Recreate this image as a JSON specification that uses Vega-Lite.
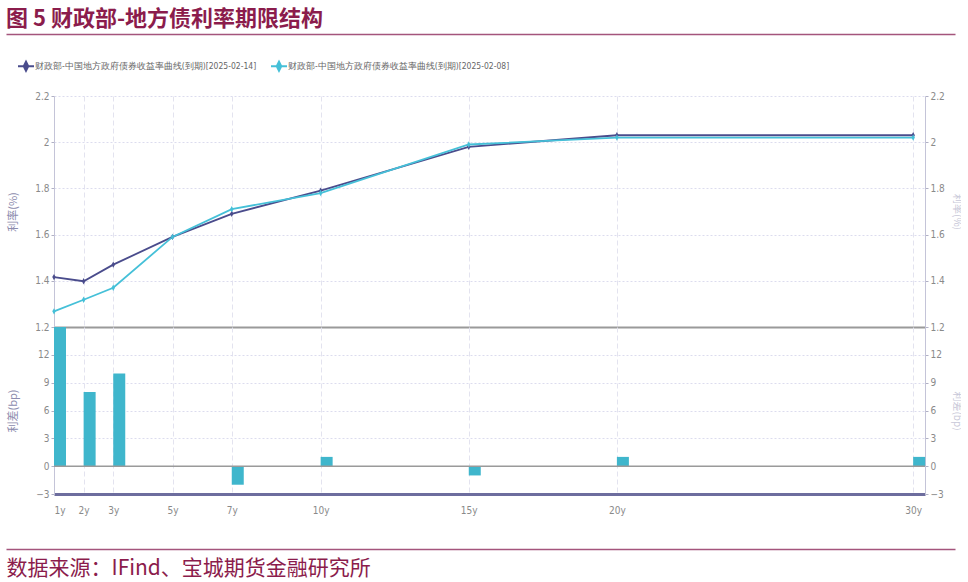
{
  "$schema": "https://vega.github.io/schema/vega-lite/v6.json",
  "padding": {"left": 6, "top": 8, "right": 0, "bottom": 2},
  "background": "white",
  "config": {
    "view": {"stroke": null},
    "font": "Liberation Sans Narrow, DejaVu Sans Condensed, sans-serif",
    "axis": {
      "labelFont": "Liberation Sans Narrow, DejaVu Sans Condensed, sans-serif",
      "labelFontSize": 10,
      "labelColor": "#8a8a8a",
      "titleFont": "Noto Sans CJK SC",
      "titleFontSize": 11,
      "titleFontWeight": "normal",
      "titleColor": "#8c8cae",
      "tickColor": "#b0b0c4",
      "tickSize": 3
    }
  },
  "datasets": {
    "rates": [
      {"tenor": 1, "series": "财政部-中国地方政府债券收益率曲线(到期)[2025-02-14]", "rate": 1.416},
      {"tenor": 2, "series": "财政部-中国地方政府债券收益率曲线(到期)[2025-02-14]", "rate": 1.398},
      {"tenor": 3, "series": "财政部-中国地方政府债券收益率曲线(到期)[2025-02-14]", "rate": 1.47},
      {"tenor": 5, "series": "财政部-中国地方政府债券收益率曲线(到期)[2025-02-14]", "rate": 1.59},
      {"tenor": 7, "series": "财政部-中国地方政府债券收益率曲线(到期)[2025-02-14]", "rate": 1.69},
      {"tenor": 10, "series": "财政部-中国地方政府债券收益率曲线(到期)[2025-02-14]", "rate": 1.79},
      {"tenor": 15, "series": "财政部-中国地方政府债券收益率曲线(到期)[2025-02-14]", "rate": 1.98},
      {"tenor": 20, "series": "财政部-中国地方政府债券收益率曲线(到期)[2025-02-14]", "rate": 2.03},
      {"tenor": 30, "series": "财政部-中国地方政府债券收益率曲线(到期)[2025-02-14]", "rate": 2.03},
      {"tenor": 1, "series": "财政部-中国地方政府债券收益率曲线(到期)[2025-02-08]", "rate": 1.268},
      {"tenor": 2, "series": "财政部-中国地方政府债券收益率曲线(到期)[2025-02-08]", "rate": 1.318},
      {"tenor": 3, "series": "财政部-中国地方政府债券收益率曲线(到期)[2025-02-08]", "rate": 1.37},
      {"tenor": 5, "series": "财政部-中国地方政府债券收益率曲线(到期)[2025-02-08]", "rate": 1.59},
      {"tenor": 7, "series": "财政部-中国地方政府债券收益率曲线(到期)[2025-02-08]", "rate": 1.71},
      {"tenor": 10, "series": "财政部-中国地方政府债券收益率曲线(到期)[2025-02-08]", "rate": 1.78},
      {"tenor": 15, "series": "财政部-中国地方政府债券收益率曲线(到期)[2025-02-08]", "rate": 1.99},
      {"tenor": 20, "series": "财政部-中国地方政府债券收益率曲线(到期)[2025-02-08]", "rate": 2.02},
      {"tenor": 30, "series": "财政部-中国地方政府债券收益率曲线(到期)[2025-02-08]", "rate": 2.02}
    ],
    "spread": [
      {"tenor": 1, "bp": 15},
      {"tenor": 2, "bp": 8},
      {"tenor": 3, "bp": 10},
      {"tenor": 5, "bp": 0},
      {"tenor": 7, "bp": -2},
      {"tenor": 10, "bp": 1},
      {"tenor": 15, "bp": -1},
      {"tenor": 20, "bp": 1},
      {"tenor": 30, "bp": 1}
    ],
    "one": [{"k": 0}]
  },
  "vconcat": [
    {
      "vconcat": [
        {
          "data": {"name": "one"},
          "width": 949,
          "height": 1,
          "title": {
            "text": "图 5 财政部-地方债利率期限结构",
            "anchor": "start",
            "font": "Noto Sans CJK SC",
            "fontSize": 22,
            "fontWeight": "bold",
            "color": "#8b1c4c",
            "offset": 2
          },
          "mark": {"type": "point", "size": 0, "opacity": 0},
          "encoding": {
            "x": {
              "field": "k", "type": "quantitative",
              "scale": {"domain": [0, 1]},
              "axis": {"orient": "bottom", "domainColor": "#a4557c", "domainWidth": 1.5, "ticks": false, "labels": false, "grid": false, "title": null}
            }
          }
        },
        {
          "hconcat": [
            {
              "data": {"name": "one"},
              "width": 1,
              "height": 1,
              "mark": {"type": "point", "size": 0, "opacity": 0},
              "encoding": {}
            },
            {
              "vconcat": [
                {
                  "width": 871,
                  "height": 231,
                  "data": {"name": "rates"},
                  "layer": [
                    {
                      "mark": {"type": "line", "strokeWidth": 1.8},
                      "encoding": {
                        "x": {
                          "field": "tenor", "type": "quantitative",
                          "scale": {"domain": [1, 30.4], "nice": false, "zero": false, "padding": 0},
                          "axis": {"values": [1, 2, 3, 5, 7, 10, 15, 20, 30], "labels": false, "ticks": false, "domainColor": "#9a9a9a", "domainWidth": 2, "grid": true, "gridColor": "#e3e3ef", "gridDash": [5, 3], "title": null}
                        },
                        "y": {
                          "field": "rate", "type": "quantitative",
                          "scale": {"domain": [1.2, 2.2], "nice": false, "zero": false},
                          "axis": {"orient": "left", "values": [1.2, 1.4, 1.6, 1.8, 2, 2.2], "format": ".1~f", "grid": true, "gridColor": "#dcdcee", "gridDash": [2, 2], "domainColor": "#c4c4d8", "labelPadding": 2, "title": "利率(%)", "titleX": -35.5}
                        },
                        "color": {
                          "field": "series", "type": "nominal",
                          "scale": {
                            "domain": ["财政部-中国地方政府债券收益率曲线(到期)[2025-02-14]", "财政部-中国地方政府债券收益率曲线(到期)[2025-02-08]"],
                            "range": ["#4a4c8c", "#45c0d8"]
                          },
                          "legend": {
                            "orient": "none", "legendX": -34, "legendY": -36, "direction": "horizontal", "title": null,
                            "symbolType": "M-1.6,0H1.6M0,-0.9L0.45,0L0,0.9L-0.45,0Z",
                            "symbolSize": 100, "symbolStrokeWidth": 2,
                            "labelFontSize": 8.5, "labelColor": "#666666", "labelLimit": 400,
                            "columnPadding": 10, "labelOffset": 3
                          }
                        }
                      }
                    },
                    {
                      "mark": {"type": "point", "shape": "M0,-1L0.55,0L0,1L-0.55,0Z", "filled": true, "size": 40, "opacity": 1},
                      "encoding": {
                        "x": {"field": "tenor", "type": "quantitative"},
                        "y": {
                          "field": "rate", "type": "quantitative",
                          "scale": {"domain": [1.2, 2.2], "nice": false, "zero": false},
                          "axis": {"orient": "right", "values": [1.2, 1.4, 1.6, 1.8, 2, 2.2], "format": ".1~f", "grid": false, "domainColor": "#c4c4d8", "labelPadding": 2, "title": "利率(%)", "titleX": 26, "titleFontSize": 10, "titleColor": "#c8c8d8"}
                        },
                        "color": {"field": "series", "type": "nominal"}
                      }
                    }
                  ],
                  "resolve": {"scale": {"y": "independent"}}
                },
                {
                  "width": 871,
                  "height": 167,
                  "layer": [
                    {
                      "data": {"name": "spread"},
                      "mark": {"type": "bar", "width": 12, "xOffset": 6, "color": "#3fb6cc"},
                      "encoding": {
                        "x": {
                          "field": "tenor", "type": "quantitative",
                          "scale": {"domain": [1, 30.4], "nice": false, "zero": false, "padding": 0},
                          "axis": {"values": [1, 2, 3, 5, 7, 10, 15, 20, 30], "labelExpr": "datum.value + 'y'", "ticks": false, "domainColor": "#6d6d9e", "domainWidth": 3, "grid": true, "gridColor": "#e3e3ef", "gridDash": [5, 3], "labelPadding": 11, "title": null}
                        },
                        "y": {
                          "field": "bp", "type": "quantitative",
                          "scale": {"domain": [-3, 15], "nice": false, "zero": false, "padding": 0},
                          "axis": {"orient": "left", "values": [-3, 0, 3, 6, 9, 12], "grid": true, "gridColor": "#dcdcee", "gridDash": [2, 2], "domainColor": "#c4c4d8", "labelPadding": 2, "title": "利差(bp)", "titleX": -35.5}
                        }
                      }
                    },
                    {
                      "data": {"name": "one"},
                      "mark": {"type": "rule", "color": "#9a9a9a", "strokeWidth": 1.5},
                      "encoding": {
                        "y": {
                          "datum": 0, "type": "quantitative",
                          "scale": {"domain": [-3, 15], "nice": false, "zero": false},
                          "axis": {"orient": "right", "values": [-3, 0, 3, 6, 9, 12], "grid": false, "domainColor": "#c4c4d8", "labelPadding": 2, "title": "利差(bp)", "titleX": 26, "titleFontSize": 10, "titleColor": "#c8c8d8"}
                        }
                      }
                    }
                  ],
                  "resolve": {"scale": {"y": "independent"}}
                }
              ],
              "spacing": 0,
              "bounds": "flush",
              "resolve": {"scale": {"x": "independent", "y": "independent", "color": "independent"}, "legend": {"color": "independent"}}
            }
          ],
          "spacing": 0,
          "resolve": {"scale": {"x": "independent", "y": "independent", "color": "independent"}, "legend": {"color": "independent"}}
        }
      ],
      "spacing": 26,
      "resolve": {"scale": {"x": "independent", "color": "independent"}, "legend": {"color": "independent"}}
    },
    {
      "data": {"name": "one"},
      "width": 949,
      "height": 1,
      "mark": {"type": "point", "size": 0, "opacity": 0},
      "encoding": {
        "x": {
          "field": "k", "type": "quantitative",
          "scale": {"domain": [0, 1]},
          "axis": {"orient": "bottom", "domainColor": "#a4557c", "domainWidth": 1.5, "ticks": false, "labels": false, "grid": false, "title": "数据来源：IFind、宝城期货金融研究所", "titleAnchor": "start", "titleFont": "Noto Sans CJK SC", "titleFontSize": 21, "titleFontWeight": "normal", "titleColor": "#8b1c4c", "titlePadding": 8}
        }
      }
    }
  ],
  "spacing": 33,
  "resolve": {"scale": {"x": "independent", "color": "independent"}, "legend": {"color": "independent"}}
}
